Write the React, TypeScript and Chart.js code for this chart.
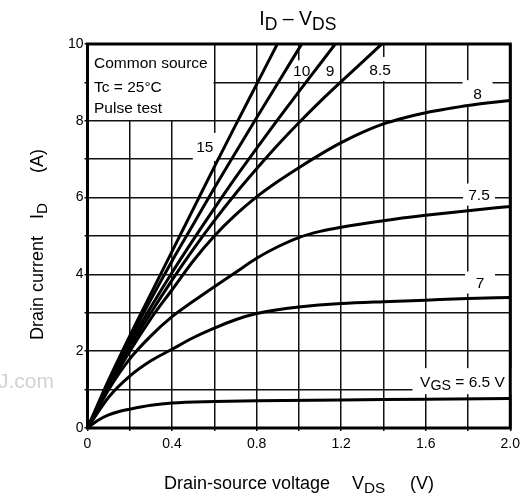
import React, { useEffect, useRef } from 'react';
import { Chart, registerables } from 'chart.js';

Chart.register(...registerables);

const FONT = '"Liberation Sans", Arial, Helvetica, sans-serif';

// Axis tick labels
const X_TICK_LABELS = ['0', '0.4', '0.8', '1.2', '1.6', '2.0'];
const Y_TICK_LABELS = ['0', '2', '4', '6', '8', '10'];

// VGS = 15 V
const VDS_15 = [0, 0.1, 0.2, 0.3, 0.4, 0.5, 0.6, 0.7, 0.8, 0.9, 0.92];
const ID_15 = [0, 1.25, 2.4, 3.5, 4.6, 5.7, 6.8, 7.88, 8.95, 10.02, 10.24];
// VGS = 10 V
const VDS_10 = [0, 0.1, 0.2, 0.3, 0.4, 0.5, 0.6, 0.7, 0.8, 0.9, 1.0, 1.05];
const ID_10 = [0, 1.2, 2.3, 3.35, 4.35, 5.3, 6.25, 7.17, 8.08, 8.98, 9.88, 10.33];
// VGS = 9 V
const VDS_9 = [0, 0.1, 0.2, 0.3, 0.4, 0.5, 0.6, 0.7, 0.8, 0.9, 1.0, 1.1, 1.2];
const ID_9 = [0, 1.15, 2.2, 3.15, 4.05, 4.9, 5.72, 6.52, 7.28, 8.03, 8.76, 9.48, 10.2];
// VGS = 8.5 V
const VDS_85 = [0, 0.1, 0.2, 0.3, 0.4, 0.5, 0.6, 0.7, 0.8, 0.9, 1.0, 1.1, 1.2, 1.3, 1.4];
const ID_85 = [0, 1.1, 2.1, 3.0, 3.85, 4.65, 5.4, 6.1, 6.75, 7.37, 7.95, 8.5, 9.02, 9.53, 10.04];
// VGS = 8 V
const VDS_8 = [0, 0.1, 0.2, 0.3, 0.4, 0.5, 0.6, 0.7, 0.8, 0.9, 1.0, 1.1, 1.2, 1.3, 1.4, 1.5, 1.6, 1.7, 1.8, 1.9, 2.0];
const ID_8 = [0, 1.05, 2.0, 2.85, 3.6, 4.35, 5.0, 5.55, 6.02, 6.42, 6.78, 7.12, 7.43, 7.7, 7.92, 8.08, 8.21, 8.31, 8.4, 8.47, 8.53];
// VGS = 7.5 V
const VDS_75 = [0, 0.1, 0.2, 0.3, 0.4, 0.5, 0.6, 0.7, 0.8, 0.9, 1.0, 1.1, 1.2, 1.4, 1.6, 1.8, 2.0];
const ID_75 = [0, 1.0, 1.8, 2.4, 2.9, 3.3, 3.68, 4.05, 4.42, 4.72, 4.96, 5.12, 5.23, 5.4, 5.54, 5.66, 5.77];
// VGS = 7 V
const VDS_7 = [0, 0.1, 0.2, 0.3, 0.4, 0.5, 0.6, 0.7, 0.8, 0.9, 1.0, 1.2, 1.4, 1.6, 1.8, 2.0];
const ID_7 = [0, 0.8, 1.35, 1.75, 2.05, 2.35, 2.6, 2.82, 2.98, 3.08, 3.15, 3.24, 3.29, 3.33, 3.37, 3.4];
// VGS = 6.5 V
const VDS_65 = [0, 0.05, 0.1, 0.15, 0.2, 0.3, 0.4, 0.6, 0.8, 1.2, 1.6, 2.0];
const ID_65 = [0, 0.2, 0.34, 0.43, 0.49, 0.59, 0.65, 0.69, 0.71, 0.73, 0.75, 0.77];

const SERIES = [
  { name: '15', v: VDS_15, i: ID_15 },
  { name: '10', v: VDS_10, i: ID_10 },
  { name: '9', v: VDS_9, i: ID_9 },
  { name: '8.5', v: VDS_85, i: ID_85 },
  { name: '8', v: VDS_8, i: ID_8 },
  { name: '7.5', v: VDS_75, i: ID_75 },
  { name: '7', v: VDS_7, i: ID_7 },
  { name: '6.5', v: VDS_65, i: ID_65 },
];

type Part = { t: string; sub?: boolean; scale?: number };

// Curve annotations (anchored in data units, with a white knock-out box in px)
const CURVE_LABELS: { parts: Part[]; v: number; i: number; bw: number; bh: number }[] = [
  { parts: [{ t: '15' }], v: 0.555, i: 7.32, bw: 24, bh: 28 },
  { parts: [{ t: '10' }], v: 1.013, i: 9.3, bw: 20, bh: 21 },
  { parts: [{ t: '9' }], v: 1.147, i: 9.3, bw: 14, bh: 20 },
  { parts: [{ t: '8.5' }], v: 1.384, i: 9.35, bw: 28, bh: 24 },
  { parts: [{ t: '8' }], v: 1.845, i: 8.72, bw: 30, bh: 26 },
  { parts: [{ t: '7.5' }], v: 1.852, i: 6.08, bw: 32, bh: 22 },
  { parts: [{ t: '7' }], v: 1.857, i: 3.79, bw: 30, bh: 22 },
  { parts: [{ t: 'V' }, { t: 'GS', sub: true, scale: 0.92 }, { t: ' = 6.5 V' }], v: 1.774, i: 1.22, bw: 100, bh: 26 },
];

const LEGEND_LINES = ['Common source', 'Tc = 25°C', 'Pulse test'];
const LEGEND_CORNER = { v: 0.6, i: 8 };

function fontOf(size: number) {
  return `${size}px ${FONT}`;
}

function partSize(p: Part, size: number) {
  return p.sub ? size * (p.scale ?? 0.8) : size;
}

function partsWidth(ctx: CanvasRenderingContext2D, parts: Part[], size: number) {
  let w = 0;
  for (const p of parts) {
    ctx.font = fontOf(partSize(p, size));
    w += ctx.measureText(p.t).width;
  }
  return w;
}

function drawParts(
  ctx: CanvasRenderingContext2D,
  parts: Part[],
  x: number,
  y: number,
  size: number,
  align: 'left' | 'center'
) {
  ctx.textBaseline = 'alphabetic';
  ctx.textAlign = 'left';
  let cx = align === 'center' ? x - partsWidth(ctx, parts, size) / 2 : x;
  for (const p of parts) {
    ctx.font = fontOf(partSize(p, size));
    ctx.fillText(p.t, cx, p.sub ? y + size * 0.24 : y);
    cx += ctx.measureText(p.t).width;
  }
}

const overlayPlugin = {
  id: 'overlay',
  beforeDatasetsDraw(chart: any) {
    const { ctx, chartArea: a, scales } = chart;
    const x = scales.x;
    const y = scales.y;
    ctx.save();
    ctx.fillStyle = '#fff';
    const bx = x.getPixelForValue(LEGEND_CORNER.v);
    const by = y.getPixelForValue(LEGEND_CORNER.i);
    ctx.fillRect(a.left, a.top, bx - a.left - 0.8, by - a.top - 0.8);
    for (const l of CURVE_LABELS) {
      const cx = x.getPixelForValue(l.v);
      const cy = y.getPixelForValue(l.i);
      ctx.fillRect(cx - l.bw / 2, cy - l.bh / 2, l.bw, l.bh);
    }
    ctx.restore();
  },
  afterDraw(chart: any) {
    const { ctx, chartArea: a, scales } = chart;
    const x = scales.x;
    const y = scales.y;
    ctx.save();
    // frame
    ctx.strokeStyle = '#000';
    ctx.lineWidth = 3;
    ctx.strokeRect(a.left, a.top, a.right - a.left, a.bottom - a.top);

    ctx.fillStyle = '#000';
    // curve labels
    const ls = 15.5;
    for (const l of CURVE_LABELS) {
      const cx = x.getPixelForValue(l.v);
      const cy = y.getPixelForValue(l.i);
      drawParts(ctx, l.parts, cx, cy + ls * 0.36, ls, 'center');
    }
    // legend text
    const baselines = [68, 92, 113];
    LEGEND_LINES.forEach((t, k) => {
      drawParts(ctx, [{ t }], a.left + 6.5, baselines[k], 15.5, 'left');
    });
    // title
    drawParts(
      ctx,
      [{ t: 'I' }, { t: 'D', sub: true, scale: 0.9 }, { t: ' – V' }, { t: 'DS', sub: true, scale: 0.9 }],
      (a.left + a.right) / 2 - 1,
      25,
      19.5,
      'center'
    );
    // x axis title
    drawParts(ctx, [{ t: 'Drain-source voltage' }], 164, 489, 18, 'left');
    drawParts(ctx, [{ t: 'V' }, { t: 'DS', sub: true, scale: 0.85 }], 352, 489, 18, 'left');
    drawParts(ctx, [{ t: '(V)' }], 410, 489, 18, 'left');
    // y axis title (rotated)
    ctx.save();
    ctx.translate(43, 340);
    ctx.rotate(-Math.PI / 2);
    drawParts(ctx, [{ t: 'Drain current' }], 0, 0, 18, 'left');
    drawParts(ctx, [{ t: 'I' }, { t: 'D', sub: true, scale: 0.85 }], 121, 0, 18, 'left');
    drawParts(ctx, [{ t: '(A)' }], 167, 0, 18, 'left');
    ctx.restore();
    // faint watermark fragment
    ctx.fillStyle = '#d2d2d2';
    drawParts(ctx, [{ t: 'J.com' }], -2, 388, 21, 'left');
    ctx.restore();
  },
};

export default function App() {
  const ref = useRef<HTMLCanvasElement | null>(null);

  useEffect(() => {
    if (!ref.current) return;
    Chart.defaults.font.family = FONT;
    const chart = new Chart(ref.current, {
      type: 'line',
      data: {
        datasets: SERIES.map((s) => ({
          label: s.name,
          data: s.v.map((vv, k) => ({ x: vv, y: s.i[k] })),
          borderColor: '#000',
          borderWidth: 3,
          pointRadius: 0,
          cubicInterpolationMode: 'monotone' as const,
          fill: false,
        })),
      },
      options: {
        responsive: false,
        animation: false,
        layout: { padding: { top: 44, right: 12, left: 0, bottom: 0 } },
        plugins: {
          legend: { display: false },
          tooltip: { enabled: false },
          title: { display: false },
        },
        scales: {
          x: {
            type: 'linear',
            min: 0,
            max: 2,
            afterFit: (s: any) => {
              s.height = 71;
            },
            ticks: {
              stepSize: 0.2,
              autoSkip: false,
              maxRotation: 0,
              padding: 5,
              color: '#000',
              font: { size: 14, family: FONT },
              callback: (_v: any, idx: number) => (idx % 2 === 0 ? X_TICK_LABELS[idx / 2] : ''),
            },
            grid: { color: '#111', lineWidth: 1.5, drawTicks: true, tickLength: 3 },
            border: { display: false },
          },
          y: {
            type: 'linear',
            min: 0,
            max: 10,
            afterFit: (s: any) => {
              s.width = 87.5;
            },
            ticks: {
              stepSize: 1,
              autoSkip: false,
              padding: 1,
              color: '#000',
              font: { size: 14, family: FONT },
              callback: (_v: any, idx: number) => (idx % 2 === 0 ? Y_TICK_LABELS[idx / 2] : ''),
            },
            grid: { color: '#111', lineWidth: 1.5, drawTicks: true, tickLength: 3 },
            border: { display: false },
          },
        },
      },
      plugins: [overlayPlugin],
    } as any);
    return () => chart.destroy();
  }, []);

  return (
    <div style={{ position: 'absolute', left: 0, top: 0, width: 525, height: 499, background: '#fff' }}>
      <canvas ref={ref} width={525} height={499} style={{ width: 525, height: 499, display: 'block' }} />
    </div>
  );
}
